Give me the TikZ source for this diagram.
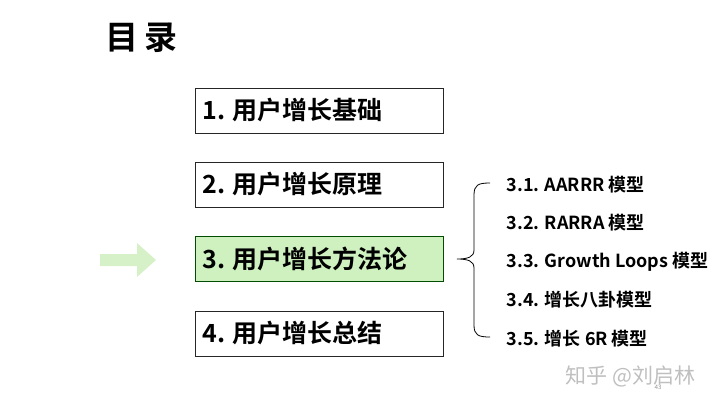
\documentclass[tikz,border=0pt]{standalone}
\usepackage{fontspec}
\setmainfont{Open Sans}
\newfontfamily\cjk{Noto Sans CJK SC}[BoldFont={Noto Sans CJK SC Bold}]
\begin{document}
\begin{tikzpicture}[x=1pt,y=-1pt,
  box/.style={draw=black!85,line width=1.2pt,minimum width=248pt,minimum height=45pt,anchor=north west,inner sep=0pt},
  boxtxt/.style={anchor=west,font=\fontsize{25}{28}\selectfont\bfseries\cjk},
  item/.style={anchor=west,font=\fontsize{18}{20}\selectfont\bfseries\cjk}]
\useasboundingbox (0,0) rectangle (720,405);
\node[anchor=west,font=\fontsize{33}{36}\selectfont\bfseries\cjk] (title) at (102,38) {目\,录};
\node[box] (b1) at (195,88) {};
\node[box] (b2) at (195,162) {};
\node[box,fill=green!55!olive!25,draw=green!30!black] (b3) at (195,236) {};
\node[box] (b4) at (195,311) {};
\node[boxtxt] (t1) at (199,110) {1. 用户增长基础};
\node[boxtxt] (t2) at (199,184) {2. 用户增长原理};
\node[boxtxt] (t3) at (199,259) {3. 用户增长方法论};
\node[boxtxt] (t4) at (199,333) {4. 用户增长总结};
\fill[green!45!olive!22] (100,254) -- (137,254) -- (137,243) -- (156,260) -- (137,277) -- (137,266) -- (100,266) -- cycle;
\coordinate (tip) at (457,259);
\draw[line width=0.8pt] (490,183) .. controls (478,183) and (474,185) .. (474,195) -- (474,250) .. controls (474,257) and (468,259) .. (tip) .. controls (468,259) and (474,261) .. (474,268) -- (474,325) .. controls (474,335) and (478,337) .. (490,337);
\node[item] (i1) at (503,185) {3.1. AARRR 模型};
\node[item] (i2) at (503,223) {3.2. RARRA 模型};
\node[item] (i3) at (503,262) {3.3. Growth Loops 模型};
\node[item] (i4) at (503,300) {3.4. 增长八卦模型};
\node[item] (i5) at (503,339) {3.5. 增长 6R 模型};
\node[anchor=west,text=black!25,font=\fontsize{21}{24}\selectfont\cjk] (wm) at (562,376) {知乎 @刘启林};
\node[text=black!45,font=\fontsize{6}{7}\selectfont] (pg) at (658,387) {43};
\end{tikzpicture}
\end{document}
